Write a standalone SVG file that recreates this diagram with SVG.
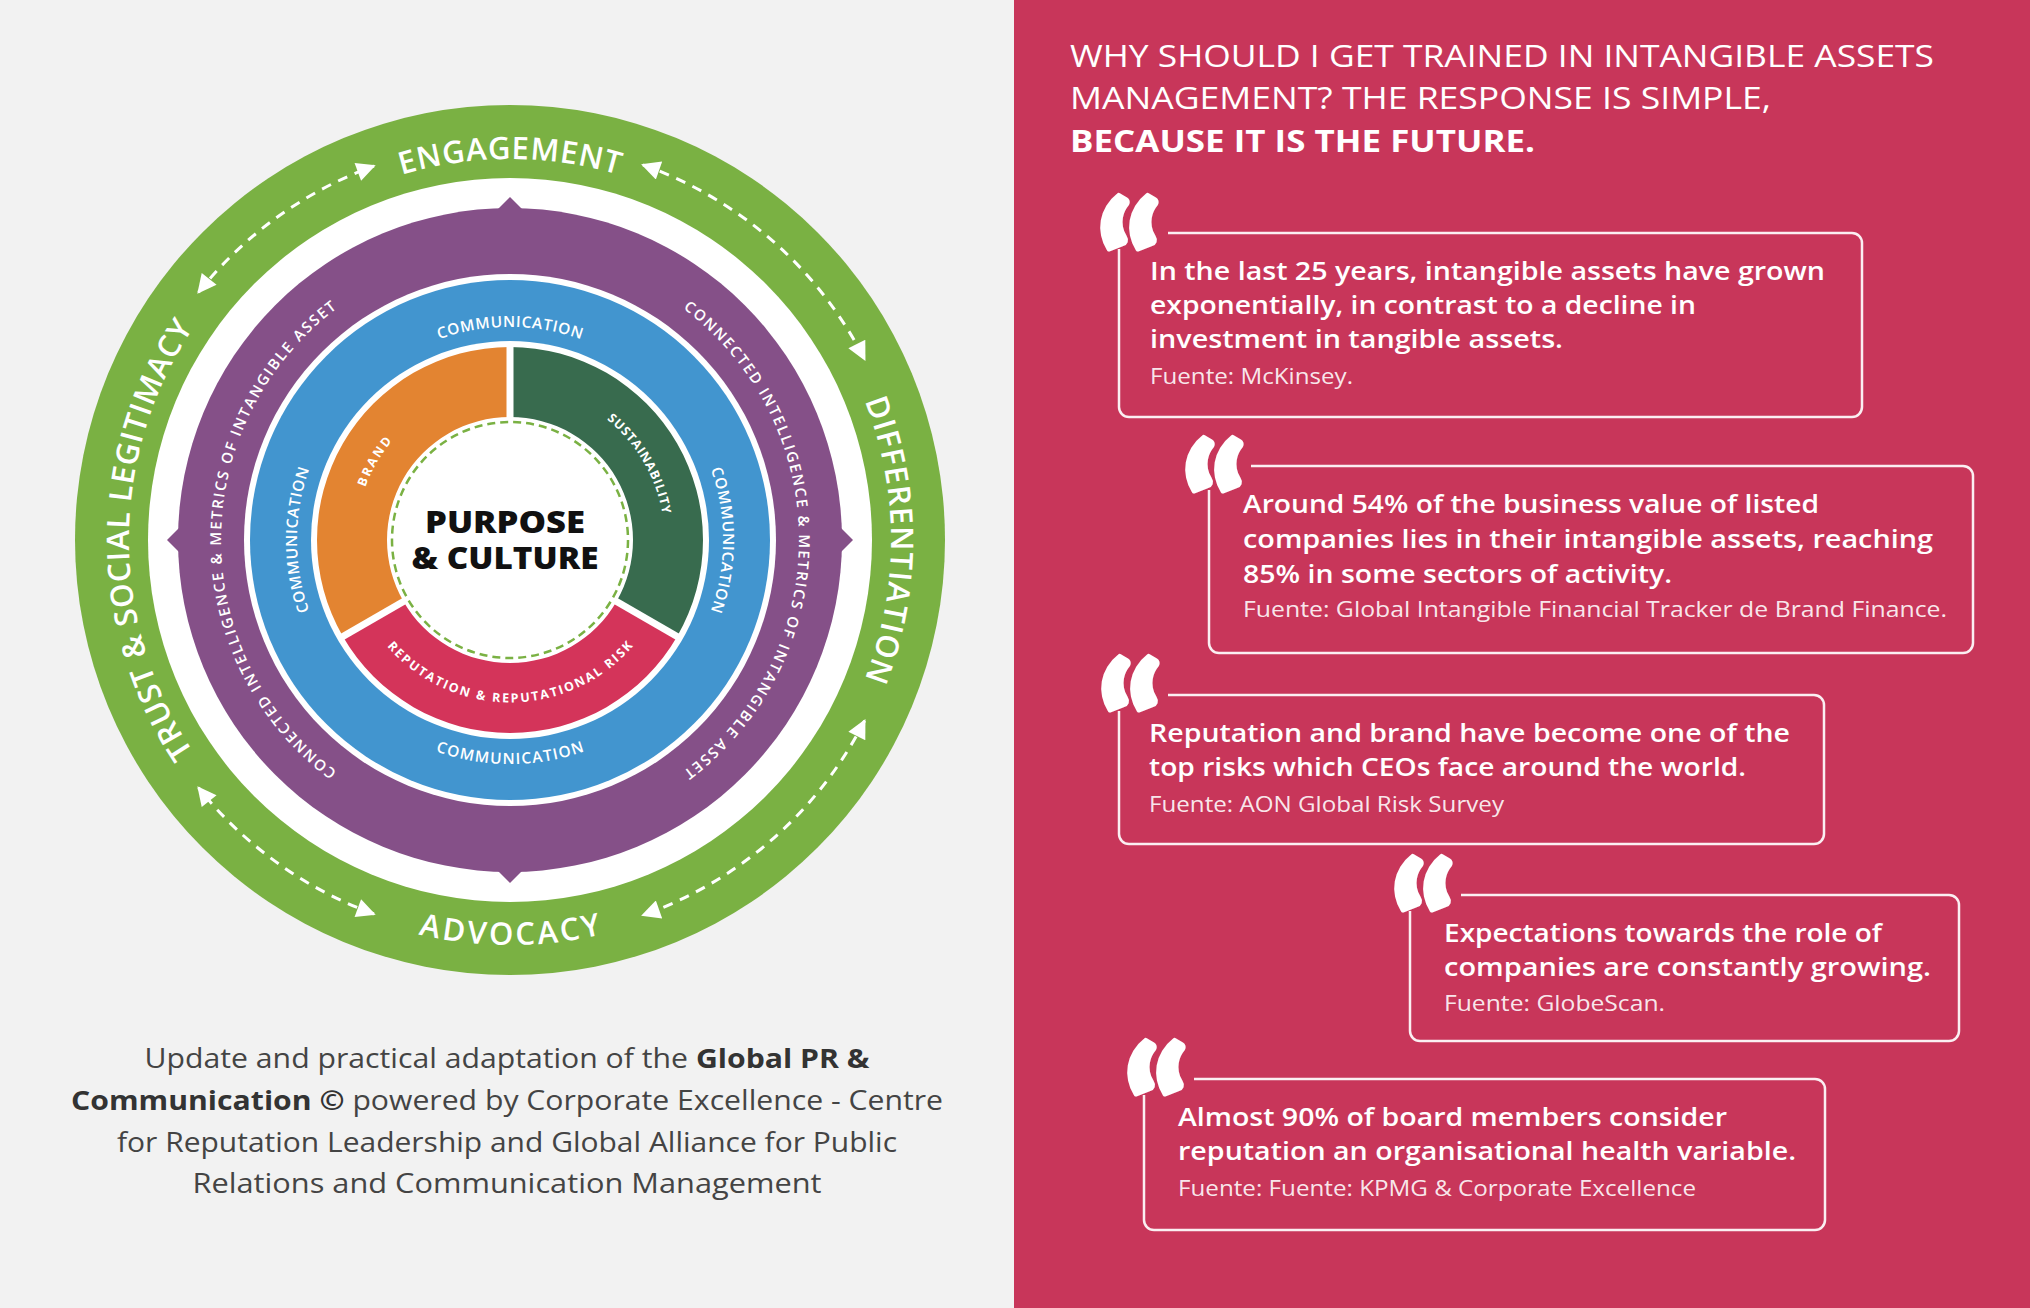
<svg xmlns="http://www.w3.org/2000/svg" xmlns:xlink="http://www.w3.org/1999/xlink" width="2030" height="1308" viewBox="0 0 2030 1308">
<style>
.ring{font-family:"Open Sans","Liberation Sans",sans-serif;fill:#fff;}
.g{font-size:31px;font-weight:600;}
.p{font-size:15px;font-weight:600;}
.b{font-size:15.5px;font-weight:600;}
.s{font-size:12.5px;font-weight:700;}
.ctr{font-family:"Open Sans","Liberation Sans",sans-serif;font-size:30px;font-weight:800;fill:#111;}
.cap{font-family:"Open Sans","Liberation Sans",sans-serif;font-size:27px;fill:#444;}
.capb{font-weight:700;fill:#333;}
.title{font-family:"Open Sans","Liberation Sans",sans-serif;font-size:31px;fill:#fff;}
.qt{font-family:"Open Sans","Liberation Sans",sans-serif;font-size:25px;font-weight:600;fill:#fff;}
.src{font-family:"Open Sans","Liberation Sans",sans-serif;font-size:21px;fill:#fff;fill-opacity:0.9;}
.qm{font-family:Lato,"Open Sans",sans-serif;font-size:168px;font-weight:900;fill:#fff;stroke:#fff;stroke-width:4;stroke-linejoin:round;}
.box{fill:none;stroke:#fff;stroke-width:2.5;stroke-opacity:0.92;}
.dash{fill:none;stroke:#fff;stroke-width:3;stroke-dasharray:10 8;marker-start:url(#ah);marker-end:url(#ah);}
</style>
<defs>
<marker id="ah" viewBox="0 0 10 10" refX="9" refY="5" markerUnits="userSpaceOnUse" markerWidth="21" markerHeight="19" orient="auto-start-reverse">
<path d="M0,0 L10,5 L0,10 z" fill="#fff"/>
</marker>
<path id="gTop" d="M129,540 A381 381 0 0 1 891,540"/>
<path id="gRight" d="M510,159 A381 381 0 0 1 510,921"/>
<path id="gLeft" d="M510,921 A381 381 0 0 1 510,159"/>
<path id="gBot" d="M105,540 A405 405 0 0 0 915,540"/>
<path id="pLeft" d="M510,829 A289 289 0 0 1 510,251"/>
<path id="pRight" d="M510,251 A289 289 0 0 1 510,829"/>
<path id="bTop" d="M297,540 A213 213 0 0 1 723,540"/>
<path id="bRight" d="M510,327 A213 213 0 0 1 510,753"/>
<path id="bLeft" d="M510,753 A213 213 0 0 1 510,327"/>
<path id="bBot" d="M286,540 A224 224 0 0 0 734,540"/>
<path id="sBrand" d="M433,673.37 A154 154 0 0 1 587,406.63"/>
<path id="sSust" d="M430.83,405.59 A156 156 0 0 1 589.17,674.41"/>
<path id="sRep" d="M347.5,540 A162.5 162.5 0 0 0 672.5,540"/>
</defs>

<rect x="0" y="0" width="1014" height="1308" fill="#F2F2F2"/>
<rect x="1014" y="0" width="1016" height="1308" fill="#C8365A"/>

<g id="ring-green">
<circle cx="510" cy="540" r="435" fill="#7AB143"/>
<circle cx="510" cy="540" r="362" fill="#fff"/>
<text class="ring g"><textPath xlink:href="#gTop" href="#gTop" startOffset="50%" text-anchor="middle" textLength="220">ENGAGEMENT</textPath></text>
<text class="ring g"><textPath xlink:href="#gRight" href="#gRight" startOffset="50%" text-anchor="middle" textLength="285">DIFFERENTIATION</textPath></text>
<text class="ring g"><textPath xlink:href="#gBot" href="#gBot" startOffset="50%" text-anchor="middle" textLength="185">ADVOCACY</textPath></text>
<text class="ring g"><textPath xlink:href="#gLeft" href="#gLeft" startOffset="50%" text-anchor="middle" textLength="450">TRUST &amp; SOCIAL LEGITIMACY</textPath></text>
</g>

<g id="ring-purple">
<circle cx="510" cy="540" r="332" fill="#855088"/>
<polygon points="496,211 510,197 524,211" fill="#855088"/>
<polygon points="839,526 853,540 839,554" fill="#855088"/>
<polygon points="496,869 510,883 524,869" fill="#855088"/>
<polygon points="181,526 167,540 181,554" fill="#855088"/>
<circle cx="510" cy="540" r="266" fill="#fff"/>
<text class="ring p"><textPath xlink:href="#pLeft" href="#pLeft" startOffset="50%" text-anchor="middle" textLength="537">CONNECTED INTELLIGENCE &amp; METRICS OF INTANGIBLE ASSET</textPath></text>
<text class="ring p"><textPath xlink:href="#pRight" href="#pRight" startOffset="50%" text-anchor="middle" textLength="537">CONNECTED INTELLIGENCE &amp; METRICS OF INTANGIBLE ASSET</textPath></text>
</g>

<g id="ring-blue">
<circle cx="510" cy="540" r="260" fill="#4295CF"/>
<circle cx="510" cy="540" r="199" fill="#fff"/>
<text class="ring b"><textPath xlink:href="#bTop" href="#bTop" startOffset="50%" text-anchor="middle" textLength="145">COMMUNICATION</textPath></text>
<text class="ring b"><textPath xlink:href="#bRight" href="#bRight" startOffset="50%" text-anchor="middle" textLength="145">COMMUNICATION</textPath></text>
<text class="ring b"><textPath xlink:href="#bLeft" href="#bLeft" startOffset="50%" text-anchor="middle" textLength="145">COMMUNICATION</textPath></text>
<text class="ring b"><textPath xlink:href="#bBot" href="#bBot" startOffset="50%" text-anchor="middle" textLength="152">COMMUNICATION</textPath></text>
</g>

<g id="seg-brand">
<path d="M342.86,636.5 A193 193 0 0 1 510,347 L510,417 A123 123 0 0 0 403.48,601.5 Z" fill="#E38431"/>
<text class="ring s"><textPath xlink:href="#sBrand" href="#sBrand" startOffset="50%" text-anchor="middle" textLength="54">BRAND</textPath></text>
</g>
<g id="seg-sustainability">
<path d="M510,347 A193 193 0 0 1 677.14,636.5 L616.52,601.5 A123 123 0 0 0 510,417 Z" fill="#386B4E"/>
<text class="ring s"><textPath xlink:href="#sSust" href="#sSust" startOffset="50%" text-anchor="middle" textLength="112">SUSTAINABILITY</textPath></text>
</g>
<g id="seg-reputation">
<path d="M677.14,636.5 A193 193 0 0 1 342.86,636.5 L403.48,601.5 A123 123 0 0 0 616.52,601.5 Z" fill="#D4345A"/>
<text class="ring s"><textPath xlink:href="#sRep" href="#sRep" startOffset="50%" text-anchor="middle" textLength="279">REPUTATION &amp; REPUTATIONAL RISK</textPath></text>
</g>
<g id="seg-gaps" stroke="#fff" stroke-width="7">
<line x1="510" y1="420" x2="510" y2="343"/>
<line x1="613.92" y1="600" x2="680.6" y2="638.5"/>
<line x1="406.08" y1="600" x2="339.4" y2="638.5"/>
</g>

<g id="center">
<circle cx="510" cy="540" r="122" fill="#fff"/>
<circle cx="510" cy="540" r="118" fill="none" stroke="#7AB143" stroke-width="2.5" stroke-dasharray="8 5"/>
<text class="ctr" x="505" y="533" text-anchor="middle" textLength="160" lengthAdjust="spacingAndGlyphs">PURPOSE</text>
<text class="ctr" x="505" y="569" text-anchor="middle" textLength="187" lengthAdjust="spacingAndGlyphs">&amp; CULTURE</text>
</g>

<g id="connectors">
<path class="dash" d="M198.5,292.2 A398 398 0 0 1 373.9,166"/>
<path class="dash" d="M642.9,164.8 A398 398 0 0 1 864.6,359.3"/>
<path class="dash" d="M864.6,720.7 A398 398 0 0 1 642.9,915.2"/>
<path class="dash" d="M373.9,914 A398 398 0 0 1 198.5,787.8"/>
</g>

<g id="caption">
<text class="cap" x="507" y="1068" text-anchor="middle" textLength="725" lengthAdjust="spacingAndGlyphs">Update and practical adaptation of the <tspan class="capb">Global PR &amp;</tspan></text>
<text class="cap" x="507" y="1110" text-anchor="middle" textLength="872" lengthAdjust="spacingAndGlyphs"><tspan class="capb">Communication ©</tspan> powered by Corporate Excellence - Centre</text>
<text class="cap" x="507" y="1152" text-anchor="middle" textLength="780" lengthAdjust="spacingAndGlyphs">for Reputation Leadership and Global Alliance for Public</text>
<text class="cap" x="507" y="1193" text-anchor="middle" textLength="629" lengthAdjust="spacingAndGlyphs">Relations and Communication Management</text>
</g>

<g id="title">
<text class="title" x="1070" y="67" textLength="864" lengthAdjust="spacingAndGlyphs">WHY SHOULD I GET TRAINED IN INTANGIBLE ASSETS</text>
<text class="title" x="1070" y="109" textLength="701" lengthAdjust="spacingAndGlyphs">MANAGEMENT? THE RESPONSE IS SIMPLE,</text>
<text class="title" x="1070" y="152" font-weight="700" textLength="465" lengthAdjust="spacingAndGlyphs">BECAUSE IT IS THE FUTURE.</text>
</g>

<g id="quote-1">
<path class="box" d="M1119,249 V407 A10 10 0 0 0 1129,417 H1852 A10 10 0 0 0 1862,407 V243 A10 10 0 0 0 1852,233 H1168"/>
<text class="qm" x="1096" y="327">“</text>
<text class="qt" x="1150" y="280" textLength="675" lengthAdjust="spacingAndGlyphs">In the last 25 years, intangible assets have grown</text>
<text class="qt" x="1150" y="314" textLength="546" lengthAdjust="spacingAndGlyphs">exponentially, in contrast to a decline in</text>
<text class="qt" x="1150" y="348" textLength="413" lengthAdjust="spacingAndGlyphs">investment in tangible assets.</text>
<text class="src" x="1150" y="384" textLength="203" lengthAdjust="spacingAndGlyphs">Fuente: McKinsey.</text>
</g>

<g id="quote-2">
<path class="box" d="M1209,490 V643 A10 10 0 0 0 1219,653 H1963 A10 10 0 0 0 1973,643 V476 A10 10 0 0 0 1963,466 H1251"/>
<text class="qm" x="1181" y="569">“</text>
<text class="qt" x="1243" y="513" textLength="576" lengthAdjust="spacingAndGlyphs">Around 54% of the business value of listed</text>
<text class="qt" x="1243" y="548" textLength="690" lengthAdjust="spacingAndGlyphs">companies lies in their intangible assets, reaching</text>
<text class="qt" x="1243" y="583" textLength="429" lengthAdjust="spacingAndGlyphs">85% in some sectors of activity.</text>
<text class="src" x="1243" y="617" textLength="704" lengthAdjust="spacingAndGlyphs">Fuente: Global Intangible Financial Tracker de Brand Finance.</text>
</g>

<g id="quote-3">
<path class="box" d="M1119,711 V834 A10 10 0 0 0 1129,844 H1814 A10 10 0 0 0 1824,834 V705 A10 10 0 0 0 1814,695 H1168"/>
<text class="qm" x="1097" y="788">“</text>
<text class="qt" x="1149" y="742" textLength="641" lengthAdjust="spacingAndGlyphs">Reputation and brand have become one of the</text>
<text class="qt" x="1149" y="776" textLength="597" lengthAdjust="spacingAndGlyphs">top risks which CEOs face around the world.</text>
<text class="src" x="1149" y="812" textLength="355" lengthAdjust="spacingAndGlyphs">Fuente: AON Global Risk Survey</text>
</g>

<g id="quote-4">
<path class="box" d="M1410,911 V1031 A10 10 0 0 0 1420,1041 H1949 A10 10 0 0 0 1959,1031 V905 A10 10 0 0 0 1949,895 H1461"/>
<text class="qm" x="1390" y="988">“</text>
<text class="qt" x="1444" y="942" textLength="438" lengthAdjust="spacingAndGlyphs">Expectations towards the role of</text>
<text class="qt" x="1444" y="976" textLength="487" lengthAdjust="spacingAndGlyphs">companies are constantly growing.</text>
<text class="src" x="1444" y="1011" textLength="221" lengthAdjust="spacingAndGlyphs">Fuente: GlobeScan.</text>
</g>

<g id="quote-5">
<path class="box" d="M1144,1095 V1220 A10 10 0 0 0 1154,1230 H1815 A10 10 0 0 0 1825,1220 V1089 A10 10 0 0 0 1815,1079 H1194"/>
<text class="qm" x="1123" y="1172">“</text>
<text class="qt" x="1178" y="1126" textLength="549" lengthAdjust="spacingAndGlyphs">Almost 90% of board members consider</text>
<text class="qt" x="1178" y="1160" textLength="618" lengthAdjust="spacingAndGlyphs">reputation an organisational health variable.</text>
<text class="src" x="1178" y="1196" textLength="518" lengthAdjust="spacingAndGlyphs">Fuente: Fuente: KPMG &amp; Corporate Excellence</text>
</g>
</svg>
